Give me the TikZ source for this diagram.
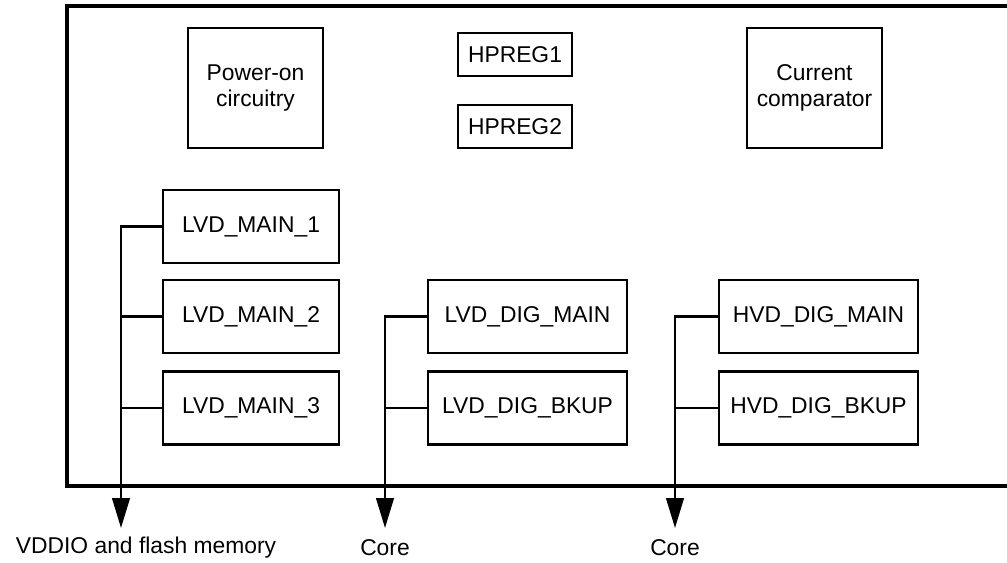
\documentclass[tikz,border=0pt]{standalone}
\usepackage{fontspec}
\setmainfont{Liberation Sans}
\usetikzlibrary{arrows.meta,positioning}

\begin{document}
\begin{tikzpicture}[x=0.02cm,y=-0.02cm,
  blk/.style={draw,line width=1.5pt,inner sep=0pt,align=center,font=\fontsize{13}{15}\selectfont},
  bigblk/.style={blk,minimum width=2.7cm,minimum height=2.4cm},
  regblk/.style={blk,minimum width=2.28cm,minimum height=0.86cm},
  mainblk/.style={blk,minimum width=3.52cm,minimum height=1.46cm},
  digblk/.style={blk,minimum width=3.98cm,minimum height=1.46cm},
  bus/.style={line width=1.3pt},
  lbl/.style={inner sep=0pt,font=\fontsize{13}{15}\selectfont}]
\useasboundingbox (0,0) rectangle (1007,562);
\draw[line width=2pt] (67,6) rectangle (1010,486);
% top row
\node[bigblk] (pwr) at (255.5,88) {Power-on\\circuitry};
\node[regblk] (hp1) at (515,54.5) {HPREG1};
\node[regblk] (hp2) at (515,126.5) {HPREG2};
\node[bigblk] (cmp) at (814.5,88) {Current\\comparator};
% detectors
\node[mainblk] (lm1) at (251,226.5) {LVD\_MAIN\_1};
\node[mainblk] (lm2) at (251,316.5) {LVD\_MAIN\_2};
\node[mainblk] (lm3) at (251,408) {LVD\_MAIN\_3};
\node[digblk] (ldm) at (527.5,316.5) {LVD\_DIG\_MAIN};
\node[digblk] (ldb) at (527.5,408) {LVD\_DIG\_BKUP};
\node[digblk] (hdm) at (818.5,316.5) {HVD\_DIG\_MAIN};
\node[digblk] (hdb) at (818.5,408) {HVD\_DIG\_BKUP};
% outputs
\coordinate (vddio) at (121,528);
\coordinate (core1) at (385,528);
\coordinate (core2) at (675,528);
\node[lbl] (vddiolbl) at (146,548) {VDDIO and flash memory};
\node[lbl] (core1lbl) at (385,548) {Core};
\node[lbl] (core2lbl) at (675,548) {Core};
\draw[bus,-{Triangle[length=17pt,width=10pt]}] (lm1.west) -| (vddio);
\draw[bus] (lm2.west) -- (lm2.west -| vddio);
\draw[bus] (lm3.west) -- (lm3.west -| vddio);
\draw[bus,-{Triangle[length=17pt,width=10pt]}] (ldm.west) -| (core1);
\draw[bus] (ldb.west) -- (ldb.west -| core1);
\draw[bus,-{Triangle[length=17pt,width=10pt]}] (hdm.west) -| (core2);
\draw[bus] (hdb.west) -- (hdb.west -| core2);
\end{tikzpicture}
\end{document}
